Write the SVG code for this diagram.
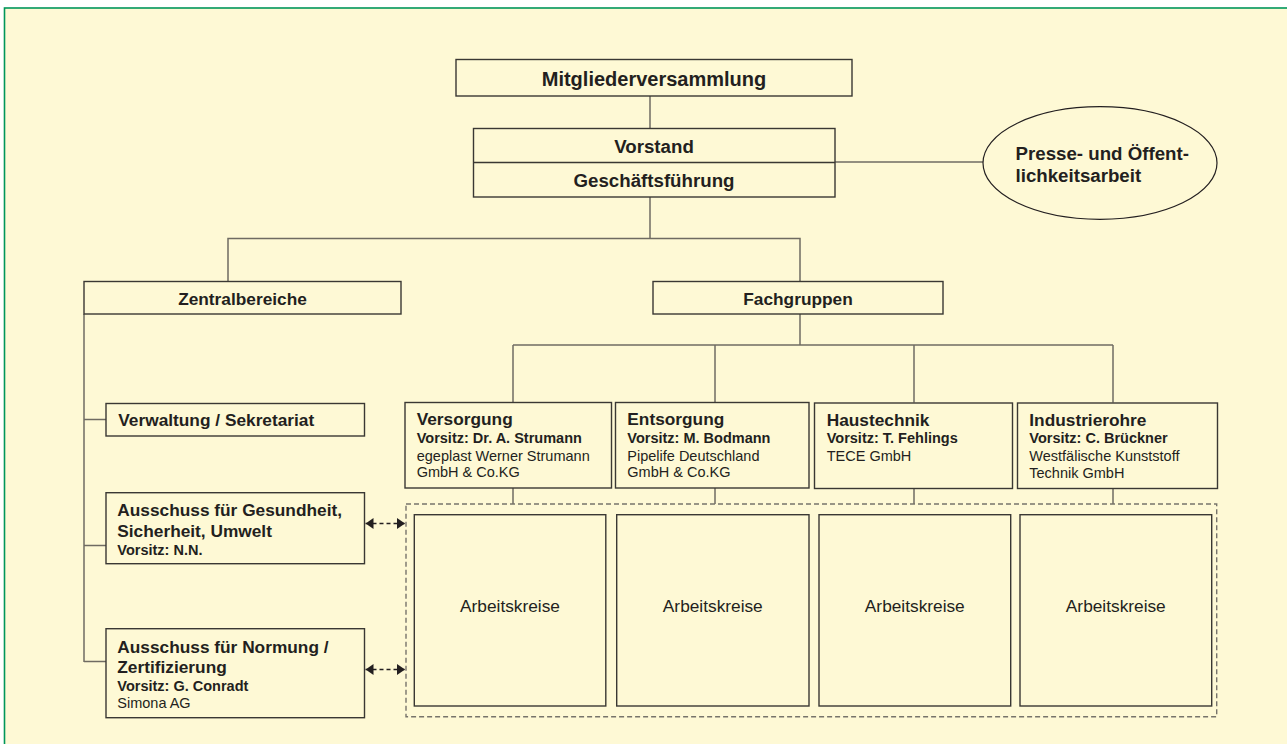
<svg xmlns="http://www.w3.org/2000/svg" width="1287" height="744" viewBox="0 0 1287 744">
<defs>
<style>
.box{fill:#FEF9D5;stroke:#3a3833;stroke-width:1.4}
.ak{fill:#FEF9D5;stroke:#3a3833;stroke-width:1.4}
.ln{fill:none;stroke:#6f6b62;stroke-width:1.5}
.t{font-family:"Liberation Sans",Arial,sans-serif;fill:#231F20}
.b{font-weight:bold}
.h1{font-size:20px}
.h2{font-size:18.7px}
.h3{font-size:17.3px}
.s{font-size:14.5px}
.m{text-anchor:middle}
.dash{fill:none;stroke:#77746b;stroke-width:1.4;stroke-dasharray:5 3}
.arr{fill:none;stroke:#231F20;stroke-width:1.3;stroke-dasharray:4 3}
</style>
<marker id="ah" viewBox="0 0 8 11" refX="8" refY="5.5" markerWidth="8" markerHeight="11" markerUnits="userSpaceOnUse" orient="auto-start-reverse">
<path d="M0,0 L8,5.5 L0,11 Z" fill="#231F20"/>
</marker>
</defs>
<rect x="0" y="0" width="1287" height="744" fill="#ffffff"/>
<rect x="4.5" y="8" width="1300" height="760" fill="#FEF9D5" stroke="#00965A" stroke-width="1.6"/>

<g id="connectors">
<line class="ln" x1="650" y1="96" x2="650" y2="128"/>
<line class="ln" x1="835" y1="162" x2="983" y2="162"/>
<line class="ln" x1="650" y1="197" x2="650" y2="238.5"/>
<polyline class="ln" points="228,281 228,238.5 800,238.5 800,281"/>
<line class="ln" x1="800" y1="314" x2="800" y2="345"/>
<line class="ln" x1="513" y1="345" x2="1113" y2="345"/>
<line class="ln" x1="513" y1="345" x2="513" y2="402.5"/>
<line class="ln" x1="715" y1="345" x2="715" y2="402.5"/>
<line class="ln" x1="914" y1="345" x2="914" y2="402.5"/>
<line class="ln" x1="1113" y1="345" x2="1113" y2="402.5"/>
<line class="ln" x1="513" y1="488" x2="513" y2="504"/>
<line class="ln" x1="715" y1="488" x2="715" y2="504"/>
<line class="ln" x1="914" y1="488" x2="914" y2="504"/>
<line class="ln" x1="1113" y1="488" x2="1113" y2="504"/>
<line class="ln" x1="84" y1="314" x2="84" y2="662"/>
<line class="ln" x1="84" y1="419.5" x2="106" y2="419.5"/>
<line class="ln" x1="84" y1="545.5" x2="106" y2="545.5"/>
<line class="ln" x1="84" y1="661.5" x2="106" y2="661.5"/>
<line class="arr" x1="365.5" y1="523.5" x2="405" y2="523.5" marker-start="url(#ah)" marker-end="url(#ah)"/>
<line class="arr" x1="365.5" y1="669.5" x2="405" y2="669.5" marker-start="url(#ah)" marker-end="url(#ah)"/>
</g>

<g id="mitgliederversammlung">
<rect class="box" x="456" y="59.5" width="396" height="36.5"/>
<text class="t b h1 m" x="654" y="86">Mitgliederversammlung</text>
</g>

<g id="vorstand">
<rect class="box" x="473.5" y="128.5" width="361.5" height="68.5"/>
<line x1="473.5" y1="162.5" x2="835" y2="162.5" stroke="#3a3833" stroke-width="1.4"/>
<text class="t b h2 m" x="654" y="152.7">Vorstand</text>
<text class="t b h2 m" x="654" y="186.7">Geschäftsführung</text>
</g>

<g id="presse">
<ellipse cx="1100" cy="163" rx="117" ry="56.3" fill="#FEF9D5" stroke="#231F20" stroke-width="1.2"/>
<text class="t b h2" x="1015.5" y="160">Presse- und Öffent-</text>
<text class="t b h2" x="1015.5" y="182.3">lichkeitsarbeit</text>
</g>

<g id="zentralbereiche">
<rect class="box" x="84" y="281.5" width="317" height="32.5"/>
<text class="t b h3 m" x="242.5" y="304.7">Zentralbereiche</text>
</g>

<g id="fachgruppen">
<rect class="box" x="653" y="281.5" width="290" height="32.5"/>
<text class="t b h3 m" x="798" y="304.7">Fachgruppen</text>
</g>

<g id="verwaltung">
<rect class="box" x="106" y="403.5" width="258.5" height="32.5"/>
<text class="t b h3" x="118.3" y="426">Verwaltung / Sekretariat</text>
</g>

<g id="ausschuss-gsu">
<rect class="box" x="106" y="492.7" width="258.5" height="71"/>
<text class="t b h3" x="117.3" y="516">Ausschuss für Gesundheit,</text>
<text class="t b h3" x="117.3" y="536.7">Sicherheit, Umwelt</text>
<text class="t b s" x="117.3" y="555">Vorsitz: N.N.</text>
</g>

<g id="ausschuss-normung">
<rect class="box" x="106" y="628.7" width="258.5" height="89"/>
<text class="t b h3" x="117.3" y="652.7">Ausschuss für Normung /</text>
<text class="t b h3" x="117.3" y="672.7">Zertifizierung</text>
<text class="t b s" x="117.3" y="691">Vorsitz: G. Conradt</text>
<text class="t s" x="117.3" y="708.3">Simona AG</text>
</g>

<g id="versorgung">
<rect class="box" x="405" y="402.5" width="206.5" height="85.5"/>
<text class="t b h3" x="416.7" y="425">Versorgung</text>
<text class="t b s" x="416.7" y="442.7">Vorsitz: Dr. A. Strumann</text>
<text class="t s" x="416.7" y="460.7">egeplast Werner Strumann</text>
<text class="t s" x="416.7" y="477.3">GmbH &amp; Co.KG</text>
</g>

<g id="entsorgung">
<rect class="box" x="615.5" y="402.5" width="193.5" height="85.5"/>
<text class="t b h3" x="627.3" y="425">Entsorgung</text>
<text class="t b s" x="627.3" y="442.7">Vorsitz: M. Bodmann</text>
<text class="t s" x="627.3" y="460.7">Pipelife Deutschland</text>
<text class="t s" x="627.3" y="477.3">GmbH &amp; Co.KG</text>
</g>

<g id="haustechnik">
<rect class="box" x="814.5" y="403" width="198" height="85.5"/>
<text class="t b h3" x="826.7" y="425.5">Haustechnik</text>
<text class="t b s" x="826.7" y="443">Vorsitz: T. Fehlings</text>
<text class="t s" x="826.7" y="461">TECE GmbH</text>
</g>

<g id="industrierohre">
<rect class="box" x="1017.5" y="403" width="200" height="85.5"/>
<text class="t b h3" x="1029.3" y="425.5">Industrierohre</text>
<text class="t b s" x="1029.3" y="443">Vorsitz: C. Brückner</text>
<text class="t s" x="1029.3" y="461">Westfälische Kunststoff</text>
<text class="t s" x="1029.3" y="477.6">Technik GmbH</text>
</g>

<g id="arbeitskreise">
<rect class="dash" x="406" y="504" width="810.7" height="212.7"/>
<rect class="ak" x="414.3" y="514.7" width="191.5" height="191.3"/>
<rect class="ak" x="616.7" y="514.7" width="192.3" height="191.3"/>
<rect class="ak" x="819" y="514.7" width="191.7" height="191.3"/>
<rect class="ak" x="1020" y="514.7" width="191.7" height="191.3"/>
<text class="t h3 m" x="510" y="611.7">Arbeitskreise</text>
<text class="t h3 m" x="712.8" y="611.7">Arbeitskreise</text>
<text class="t h3 m" x="914.8" y="611.7">Arbeitskreise</text>
<text class="t h3 m" x="1115.8" y="611.7">Arbeitskreise</text>
</g>
</svg>
